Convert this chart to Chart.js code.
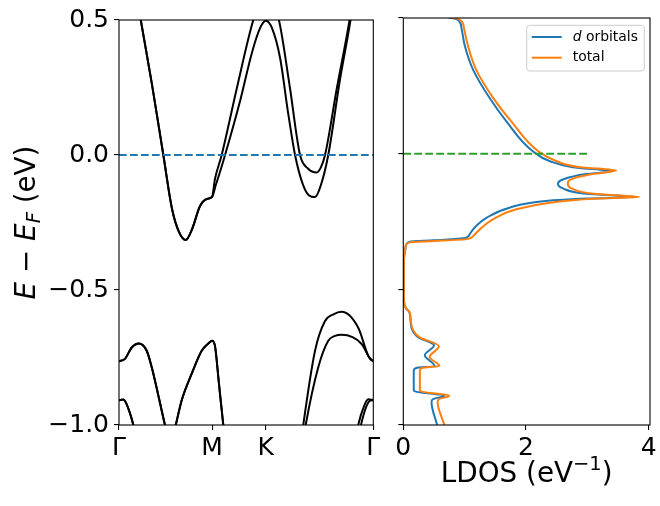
<!DOCTYPE html>
<html>
<head>
<meta charset="utf-8">
<script src="https://cdn.jsdelivr.net/npm/chart.js@4.4.1/dist/chart.umd.min.js"></script>
<style>
  html, body { margin: 0; padding: 0; background: #fff; }
  #wrap { position: relative; width: 660px; height: 506px; }
  #wrap canvas { position: absolute; left: 0; top: 0; }
</style>
</head>
<body>
<div id="wrap">
  <canvas id="bandsChart" width="660" height="506"></canvas>
  <canvas id="ldosChart" width="660" height="506"></canvas>
</div>
<script>
// k-path Γ-M-K-Γ (path length units)
const kTicks = [0, 0.5774, 0.9107, 1.5774];
const kLabels = ['Γ', 'M', 'K', 'Γ'];
const eTicks = [-1.0, -0.5, 0.0, 0.5];
const eTickLabels = ['−1.0', '−0.5', '0.0', '0.5'];
const ldosTicks = [0, 2, 4];
const ldosTickLabels = ['0', '2', '4'];

// conduction bands (two spin branches, degenerate along Γ-M)
const c1K = [0, 0.08, 0.135, 0.205, 0.275, 0.329, 0.372, 0.414, 0.453, 0.502, 0.544, 0.5774, 0.601, 0.620, 0.658, 0.751, 0.825, 0.875, 0.9107, 0.949, 0.999, 1.048, 1.092, 1.141, 1.179, 1.216, 1.253, 1.298, 1.371, 1.436, 1.5774];
const c1E = [0.95, 0.7, 0.5, 0.26, 0, -0.2, -0.285, -0.315, -0.275, -0.19, -0.163, -0.155, -0.11, -0.075, 0, 0.2, 0.38, 0.47, 0.497, 0.47, 0.36, 0.16, 0, -0.11, -0.15, -0.156, -0.11, 0, 0.28, 0.5, 1.1];
const c2K = [0, 0.08, 0.135, 0.205, 0.275, 0.329, 0.372, 0.414, 0.453, 0.502, 0.544, 0.5774, 0.595, 0.637, 0.732, 0.833, 0.9107, 0.992, 1.060, 1.123, 1.172, 1.226, 1.253, 1.278, 1.352, 1.430, 1.5774];
const c2E = [0.95, 0.7, 0.5, 0.26, 0, -0.2, -0.285, -0.315, -0.275, -0.19, -0.163, -0.155, -0.09, 0, 0.25, 0.5, 0.62, 0.5, 0.25, 0, -0.05, -0.065, -0.045, 0, 0.25, 0.5, 1.1];

// upper valence bands
const v1aK = [0, 0.037, 0.079, 0.124, 0.172, 0.203, 0.223, 0.285, 0.318, 0.352, 0.389, 0.451, 0.513, 0.554, 0.5774, 0.595, 0.620, 0.647, 0.72, 0.9107, 1.08, 1.143, 1.216, 1.278, 1.33, 1.381, 1.484, 1.546, 1.5774];
const v1aE = [-0.764, -0.755, -0.713, -0.698, -0.725, -0.786, -0.835, -1.0, -1.08, -1.0, -0.908, -0.81, -0.725, -0.698, -0.688, -0.706, -0.847, -1.0, -1.35, -1.5, -1.3, -1.0, -0.725, -0.615, -0.59, -0.581, -0.64, -0.743, -0.764];
const v1bK = [0, 0.037, 0.079, 0.124, 0.172, 0.203, 0.223, 0.285, 0.318, 0.352, 0.389, 0.451, 0.513, 0.554, 0.5774, 0.595, 0.620, 0.647, 0.72, 0.9107, 1.08, 1.158, 1.236, 1.298, 1.34, 1.381, 1.505, 1.557, 1.5774];
const v1bE = [-0.764, -0.755, -0.713, -0.698, -0.725, -0.786, -0.835, -1.0, -1.08, -1.0, -0.908, -0.81, -0.725, -0.698, -0.688, -0.706, -0.847, -1.0, -1.35, -1.5, -1.3, -1.0, -0.786, -0.688, -0.67, -0.666, -0.70, -0.755, -0.764];

// lower valence bands
const v2aK = [0, 0.027, 0.058, 0.089, 0.2, 0.8, 1.4, 1.484, 1.52, 1.546, 1.5774];
const v2aE = [-0.908, -0.906, -0.939, -1.0, -1.3, -2.0, -1.3, -1.0, -0.93, -0.905, -0.908];
const v2bK = [0, 0.027, 0.058, 0.089, 0.2, 0.8, 1.4, 1.501, 1.532, 1.557, 1.5774];
const v2bE = [-0.908, -0.906, -0.939, -1.0, -1.3, -2.0, -1.3, -1.0, -0.935, -0.91, -0.908];

// LDOS: d orbitals
const dE = [0.502, 0.496, 0.485, 0.46, 0.40, 0.308, 0.204, 0.119, 0.009, -0.028, -0.05, -0.065, -0.075, -0.095, -0.111, -0.128, -0.148, -0.160, -0.165, -0.175, -0.199, -0.236, -0.297, -0.312, -0.319, -0.324, -0.34, -0.358, -0.39, -0.45, -0.541, -0.572, -0.584, -0.639, -0.676, -0.706, -0.743, -0.783, -0.790, -0.80, -0.871, -0.878, -0.892, -0.905, -0.915, -1.0];
const dLdos = [0.74, 0.86, 0.92, 0.95, 1.00, 1.14, 1.41, 1.68, 2.11, 2.39, 2.76, 3.41, 2.98, 2.60, 2.52, 2.60, 2.98, 3.80, 2.98, 2.28, 1.73, 1.36, 1.08, 0.98, 0.49, 0.11, 0.04, 0.03, 0.01, 0.01, 0.01, 0.05, 0.10, 0.13, 0.24, 0.50, 0.35, 0.51, 0.21, 0.17, 0.17, 0.22, 0.67, 0.48, 0.46, 0.55];
// LDOS: total
const tE = [0.502, 0.496, 0.485, 0.46, 0.40, 0.308, 0.204, 0.119, 0.009, -0.028, -0.05, -0.062, -0.075, -0.095, -0.110, -0.128, -0.148, -0.160, -0.166, -0.181, -0.205, -0.242, -0.303, -0.315, -0.322, -0.326, -0.34, -0.358, -0.39, -0.45, -0.541, -0.572, -0.584, -0.639, -0.676, -0.710, -0.749, -0.783, -0.790, -0.80, -0.871, -0.878, -0.892, -0.905, -0.915, -1.0];
const tLdos = [0.78, 0.90, 0.96, 0.99, 1.05, 1.19, 1.47, 1.76, 2.20, 2.50, 2.88, 3.47, 3.08, 2.73, 2.68, 2.74, 3.10, 3.85, 3.10, 2.39, 1.84, 1.46, 1.14, 1.03, 0.50, 0.12, 0.04, 0.03, 0.01, 0.01, 0.01, 0.05, 0.10, 0.14, 0.26, 0.58, 0.43, 0.59, 0.30, 0.27, 0.27, 0.32, 0.75, 0.58, 0.56, 0.67];

const fermiLdos = [0, 3];
const bandTitle = '$E − E_F$ (eV)';
const ldosTitle = 'LDOS (eV$^{−1}$)';

const FONT = '"DejaVu Sans", sans-serif';
const TICK_SIZE = 25;
const TITLE_SIZE = 27.8;

function toPoints(xs, ys) {
    return xs.map((x, i) => ({ x: x, y: ys[i] }));
}

// tiny mathtext-like parser: $..$ italic letters, _x subscript, ^{..} superscript
function parseRich(str) {
    const runs = [];
    let math = false;
    for (let i = 0; i < str.length; i++) {
        const ch = str[i];
        if (ch === '$') { math = !math; continue; }
        let text = ch, shift = 0;
        if (math && (ch === '_' || ch === '^')) {
            shift = ch === '_' ? 1 : -1;
            if (str[i + 1] === '{') {
                const j = str.indexOf('}', i);
                text = str.slice(i + 2, j);
                i = j;
            } else {
                text = str[i + 1];
                i++;
            }
        }
        runs.push({ text: text, shift: shift, italic: math && /^[A-Za-z]+$/.test(text) });
    }
    return runs;
}

function drawRich(ctx, str, x, y, size, align) {
    const runs = parseRich(str);
    const fontOf = r => (r.italic ? 'italic ' : '') + (r.shift ? size * 0.7 : size) + 'px ' + FONT;
    let total = 0;
    runs.forEach(r => { ctx.font = fontOf(r); r.w = ctx.measureText(r.text).width; total += r.w; });
    let cx = align === 'center' ? x - total / 2 : x;
    ctx.textAlign = 'left';
    runs.forEach(r => {
        ctx.font = fontOf(r);
        const dy = r.shift > 0 ? size * 0.2 : (r.shift < 0 ? -size * 0.42 : 0);
        ctx.fillText(r.text, cx, y + dy);
        cx += r.w;
    });
    return total;
}

function richWidth(ctx, str, size) {
    let w = 0;
    parseRich(str).forEach(r => {
        ctx.font = (r.italic ? 'italic ' : '') + (r.shift ? size * 0.7 : size) + 'px ' + FONT;
        w += ctx.measureText(r.text).width;
    });
    return w;
}

// box around the plot area, like matplotlib spines
const framePlugin = {
    id: 'frame',
    afterDatasetsDraw(chart) {
        const a = chart.chartArea, ctx = chart.ctx;
        ctx.save();
        ctx.strokeStyle = '#000';
        ctx.lineWidth = 1.1;
        ctx.strokeRect(a.left, a.top, a.right - a.left, a.bottom - a.top);
        ctx.restore();
    }
};

const yTitlePlugin = {
    id: 'yTitle',
    afterDraw(chart) {
        const a = chart.chartArea, ctx = chart.ctx;
        ctx.save();
        ctx.fillStyle = '#000';
        ctx.textBaseline = 'alphabetic';
        ctx.translate(34.5, (a.top + a.bottom) / 2);
        ctx.rotate(-Math.PI / 2);
        drawRich(ctx, bandTitle, 0, 0, TITLE_SIZE, 'center');
        ctx.restore();
    }
};

const xTitlePlugin = {
    id: 'xTitle',
    afterDraw(chart) {
        const a = chart.chartArea, ctx = chart.ctx;
        ctx.save();
        ctx.fillStyle = '#000';
        ctx.textBaseline = 'alphabetic';
        drawRich(ctx, ldosTitle, (a.left + a.right) / 2, 481.7, TITLE_SIZE, 'center');
        ctx.restore();
    }
};

const legendPlugin = {
    id: 'boxLegend',
    afterDraw(chart) {
        const a = chart.chartArea, ctx = chart.ctx;
        const items = chart.data.datasets.filter(d => d.label);
        const size = 13.9;
        const textW = Math.max(...items.map(d => richWidth(ctx, d.label, size)));
        const w = 5 + 30 + 11 + textW + 6.4;
        const h = 45.7;
        const x0 = a.right - 5.7 - w, y0 = a.top + 7.3;
        ctx.save();
        ctx.beginPath();
        ctx.roundRect(x0, y0, w, h, 3);
        ctx.fillStyle = 'rgba(255,255,255,0.8)';
        ctx.fill();
        ctx.strokeStyle = '#cccccc';
        ctx.lineWidth = 1;
        ctx.stroke();
        items.forEach((d, i) => {
            const y = y0 + 11.7 + i * 20.7;
            ctx.beginPath();
            ctx.moveTo(x0 + 5, y);
            ctx.lineTo(x0 + 35, y);
            ctx.strokeStyle = d.borderColor;
            ctx.lineWidth = 2;
            ctx.stroke();
            ctx.fillStyle = '#000';
            ctx.textBaseline = 'middle';
            drawRich(ctx, d.label, x0 + 46, y, size, 'left');
        });
        ctx.restore();
    }
};

function tickAxis(values, labels, extra) {
    return Object.assign({
        type: 'linear',
        afterBuildTicks: s => { s.ticks = values.map(v => ({ value: v })); },
        ticks: {
            autoSkip: false,
            maxRotation: 0,
            color: '#000',
            font: { family: FONT, size: TICK_SIZE },
            callback: (v, i) => labels[i]
        },
        grid: { drawOnChartArea: false, drawTicks: true, tickLength: 5, color: '#000', lineWidth: 1.1 },
        border: { display: false }
    }, extra);
}

document.addEventListener('DOMContentLoaded', function() {
    Chart.defaults.font.family = FONT;

    const bands = [[c1K, c1E], [c2K, c2E], [v1aK, v1aE], [v1bK, v1bE], [v2aK, v2aE], [v2bK, v2bE]];

    // --- left panel: band structure ---
    const bandSets = bands.map(b => ({
        data: toPoints(b[0], b[1]),
        borderColor: '#000',
        borderWidth: 2,
        pointRadius: 0,
        cubicInterpolationMode: 'monotone',
        fill: false,
        order: 1
    }));
    bandSets.push({
        data: toPoints([kTicks[0], kTicks[kTicks.length - 1]], [0, 0]),
        borderColor: '#1f77b4',
        borderWidth: 2,
        borderDash: [7.7, 3.3],
        pointRadius: 0,
        order: 0
    });

    const xBands = tickAxis(kTicks, kLabels, {
        min: kTicks[0], max: kTicks[kTicks.length - 1],
        afterFit: s => { s.height = 81; }
    });
    xBands.ticks.padding = 3;
    const yBands = tickAxis(eTicks, eTickLabels, {
        min: -1, max: 0.5,
        afterFit: s => { s.width = 119; }
    });
    yBands.ticks.padding = 5;

    new Chart(document.getElementById('bandsChart'), {
        type: 'line',
        data: { datasets: bandSets },
        options: {
            responsive: false,
            animation: false,
            layout: { padding: { left: 0, top: 16, right: 286.7, bottom: 0 } },
            plugins: { legend: { display: false }, tooltip: { enabled: false } },
            scales: { x: xBands, y: yBands }
        },
        plugins: [framePlugin, yTitlePlugin]
    });

    // --- right panel: LDOS ---
    const xLdos = tickAxis(ldosTicks, ldosTickLabels, {
        min: 0, max: 4.02,
        afterFit: s => { s.height = 81; }
    });
    xLdos.ticks.padding = 3;
    const yLdos = tickAxis(eTicks, eTicks.map(() => ''), {
        min: -1, max: 0.5,
        afterFit: s => { s.width = 403.3; }
    });

    new Chart(document.getElementById('ldosChart'), {
        type: 'line',
        data: {
            datasets: [{
                label: '$d$ orbitals',
                data: toPoints(dLdos, dE),
                borderColor: '#1f77b4',
                borderWidth: 2,
                pointRadius: 0,
                cubicInterpolationMode: 'monotone',
                order: 2
            }, {
                label: 'total',
                data: toPoints(tLdos, tE),
                borderColor: '#ff7f0e',
                borderWidth: 2,
                pointRadius: 0,
                cubicInterpolationMode: 'monotone',
                order: 1
            }, {
                data: toPoints(fermiLdos, [0, 0]),
                borderColor: '#2ca02c',
                borderWidth: 2,
                borderDash: [7.7, 3.3],
                pointRadius: 0,
                order: 0
            }]
        },
        options: {
            indexAxis: 'y',
            responsive: false,
            animation: false,
            layout: { padding: { left: 0, top: 16, right: 10, bottom: 0 } },
            plugins: { legend: { display: false }, tooltip: { enabled: false } },
            scales: { x: xLdos, y: yLdos }
        },
        plugins: [framePlugin, xTitlePlugin, legendPlugin]
    });
});
</script>
</body>
</html>
